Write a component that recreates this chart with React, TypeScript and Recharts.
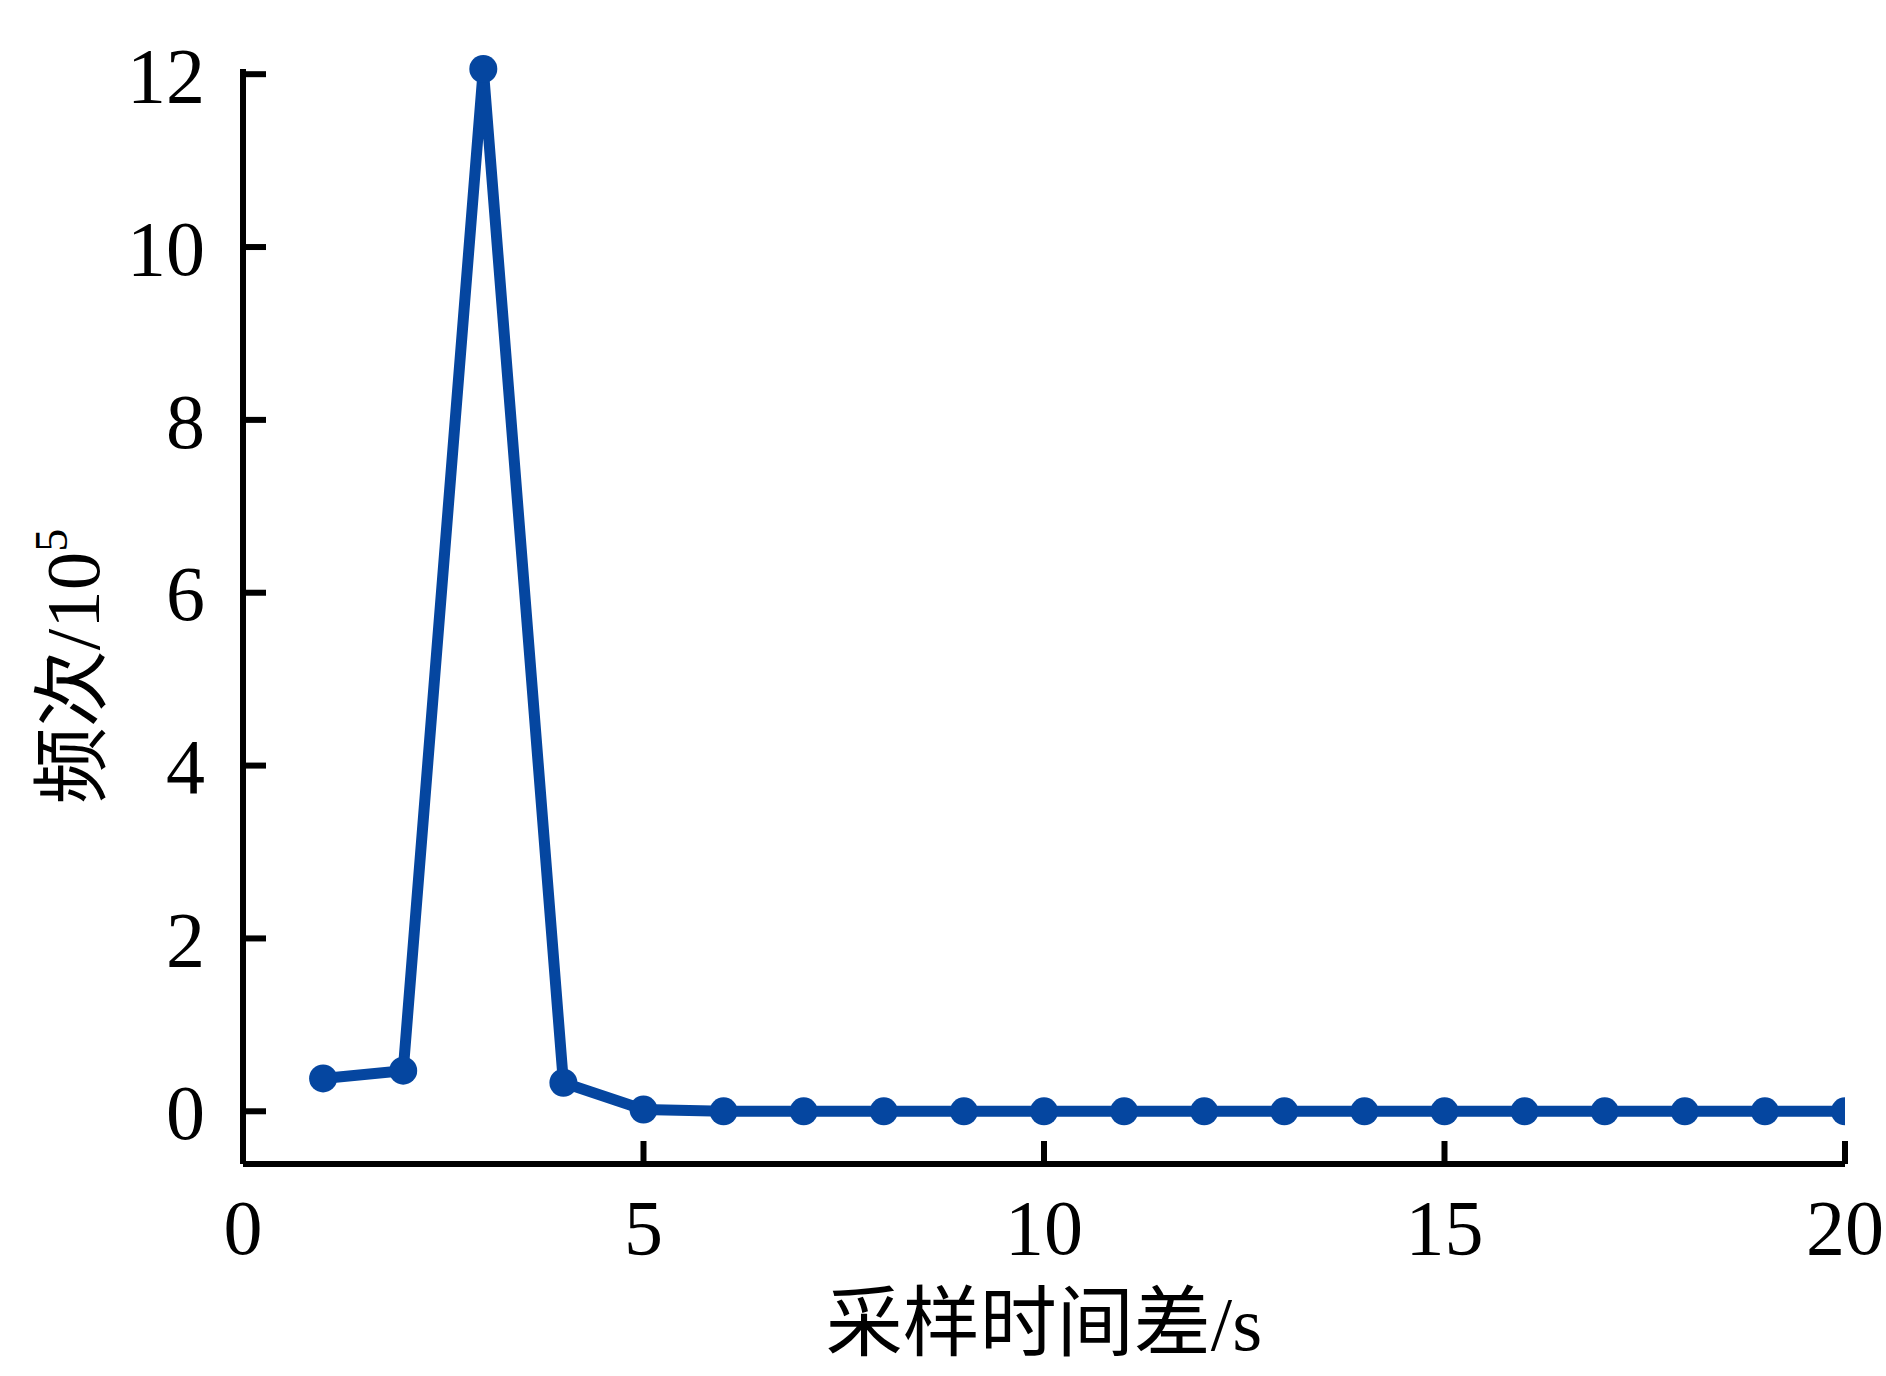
import { Label, Line, LineChart, XAxis, YAxis } from "recharts";

// 采样时间差 (s) vs 频次 (×10^5)
const intervals = [1, 2, 3, 4, 5, 6, 7, 8, 9, 10, 11, 12, 13, 14, 15, 16, 17, 18, 19, 20];
const counts = [0.38, 0.47, 12.06, 0.33, 0.02, 0, 0, 0, 0, 0, 0, 0, 0, 0, 0, 0, 0, 0, 0, 0];

const xTicks = [0, 5, 10, 15, 20];
const yTicks = [0, 2, 4, 6, 8, 10, 12];

const data = intervals.map((t, i) => ({ t, v: counts[i] }));

const BLUE = "#0546a0";
const FONT = '"Liberation Serif", "Times New Roman", "Noto Sans CJK SC", serif';
const TICK_FS = 78;
const LABEL_FS = 77;

function Dot(props: any) {
  const { cx, cy, index } = props;
  if (cx == null || cy == null) return null;
  const r = 14;
  // last point sits on the axis end and is cut in half like the original
  if (index === data.length - 1) {
    return (
      <path key={`dot-${index}`} d={`M${cx},${cy - r}A${r},${r} 0 0 0 ${cx},${cy + r}Z`} fill={BLUE} />
    );
  }
  return <circle key={`dot-${index}`} cx={cx} cy={cy} r={r} fill={BLUE} />;
}

function YTitle({ viewBox }: any) {
  const x = viewBox.x + 99;
  const y = viewBox.y + viewBox.height / 2 + 50;
  return (
    <text
      x={x}
      y={y}
      transform={`rotate(-90, ${x}, ${y})`}
      textAnchor="middle"
      fontFamily={FONT}
      fontSize={LABEL_FS}
      fill="#000"
    >
      频次/10
      <tspan dy={-32} fontSize={46}>
        5
      </tspan>
    </text>
  );
}

function XTitle({ viewBox }: any) {
  return (
    <text
      x={viewBox.x + viewBox.width / 2}
      y={viewBox.y + viewBox.height - 26}
      textAnchor="middle"
      fontFamily={FONT}
      fontSize={LABEL_FS}
      fill="#000"
    >
      采样时间差/s
    </text>
  );
}

export default function App() {
  const axisLine = { stroke: "#000", strokeWidth: 6 };
  const tickLine = { stroke: "#000", strokeWidth: 6 };
  return (
    <div style={{ position: "absolute", left: 0, top: 0, background: "#fff" }}>
      <LineChart width={1886} height={1376} data={data} margin={{ top: 69, right: 41, bottom: 0, left: 0 }}>
        <XAxis
          dataKey="t"
          type="number"
          domain={[0, 20]}
          ticks={xTicks}
          interval={0}
          height={212}
          axisLine={axisLine}
          tickLine={tickLine}
          tickSize={-23}
          tickMargin={58}
          tick={{ fill: "#000", fontSize: TICK_FS, fontFamily: FONT }}
        >
          <Label content={<XTitle />} />
        </XAxis>
        <YAxis
          type="number"
          domain={[-0.61, 12]}
          ticks={yTicks}
          interval={0}
          width={243}
          axisLine={axisLine}
          tickLine={tickLine}
          tickSize={-23}
          tickMargin={61}
          tick={{ fill: "#000", fontSize: TICK_FS, fontFamily: FONT }}
        >
          <Label content={<YTitle />} />
        </YAxis>
        <Line
          type="linear"
          dataKey="v"
          stroke={BLUE}
          strokeWidth={11}
          dot={Dot}
          activeDot={false}
          isAnimationActive={false}
        />
      </LineChart>
    </div>
  );
}
